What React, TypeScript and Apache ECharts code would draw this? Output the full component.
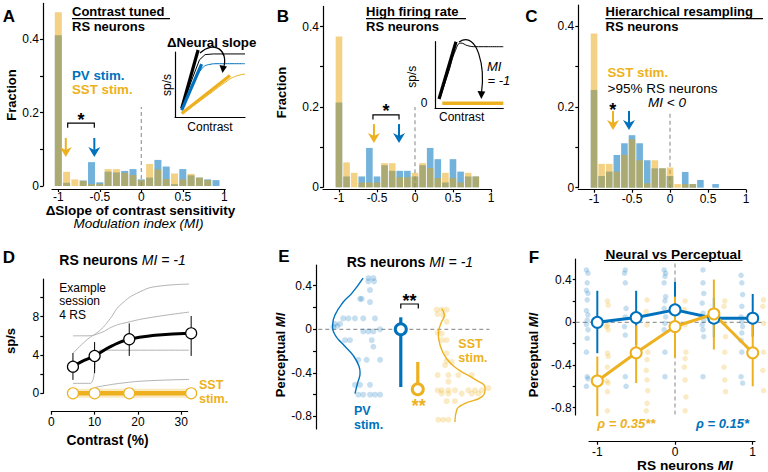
import React, { useEffect, useRef } from 'react';
import * as echarts from 'echarts';

const FONT = '"Liberation Sans", Arial, Helvetica, sans-serif';
const BLUE = '#0072BD';
const YELLOW = '#EDB120';
const BLUE_BAR = 'rgba(0,114,189,0.55)';
const YELLOW_BAR = 'rgba(233,160,0,0.48)';
const BLUE_DOT = 'rgba(0,114,189,0.28)';
const YELLOW_DOT = 'rgba(237,177,32,0.33)';
const GREY = '#b3b3b3';

// ---------- Panel A/B/C histograms ----------
const binsA = [-1, -0.9, -0.8, -0.7, -0.6, -0.5, -0.4, -0.3, -0.2, -0.1, 0, 0.1, 0.2, 0.3, 0.4, 0.5, 0.6, 0.7, 0.8, 0.9];
const aPV = [0.41, 0.009, 0, 0.015, 0.065, 0.01, 0.039, 0.037, 0.041, 0.046, 0.018, 0.023, 0.071, 0.053, 0.005, 0.046, 0.029, 0.023, 0.018, 0.016];
const aSST = [0.473, 0.039, 0.018, 0.014, 0.005, 0.006, 0.046, 0.046, 0.036, 0.03, 0.016, 0.06, 0.045, 0.019, 0.034, 0.018, 0.033, 0.023, 0.016, 0];

const binsB = [-1, -0.9, -0.8, -0.7, -0.6, -0.5, -0.4, -0.3, -0.2, -0.1, 0, 0.1, 0.2, 0.3, 0.4, 0.5, 0.6, 0.7, 0.8];
const bPV = [0.211, 0.027, 0, 0.027, 0.098, 0.027, 0.055, 0.041, 0.041, 0.041, 0.027, 0.055, 0.098, 0.07, 0.012, 0.07, 0.039, 0.027, 0.027];
const bSST = [0.375, 0.062, 0.036, 0.012, 0.012, 0.012, 0.06, 0.06, 0.025, 0.025, 0.036, 0.06, 0.048, 0.023, 0.036, 0.023, 0.012, 0.036, 0.027];

const binsC = [-1, -0.9, -0.8, -0.7, -0.6, -0.5, -0.4, -0.3, -0.2, -0.1, 0, 0.1, 0.2, 0.3, 0.4, 0.5, 0.6];
const cPV = [0.242, 0.029, 0.04, 0.081, 0.11, 0.13, 0.11, 0.068, 0.048, 0.048, 0.029, 0, 0.039, 0.009, 0.019, 0, 0.009];
const cSST = [0.382, 0.059, 0.059, 0.04, 0.081, 0.12, 0.068, 0.011, 0.068, 0.048, 0.05, 0.009, 0.009, 0.009, 0, 0, 0];

// median arrows [x, tipY] and significance brackets [x1, x2, y]
const arrowsA = { sst: [-0.91, 0.079], pv: [-0.566, 0.079] };
const arrowsB = { sst: [-0.54, 0.11], pv: [-0.21, 0.11] };
const arrowsC = { sst: [-0.75, 0.143], pv: [-0.54, 0.143] };
const bracketA = [-0.887, -0.566, 0.171];
const bracketB = [-0.553, -0.21, 0.18];
const zeroLineA = [[0, 0], [0, 0.215]];
const zeroLineB = [[0, 0], [0, 0.2]];
const zeroLineC = [[0, 0], [0, 0.19]];

// ---------- insets (schematic, arbitrary 0..10 units) ----------
const insA_blackThick = [[0.96, 1.3], [3.3, 10.3]];
const insA_blackThin = [[1, 1.6], [2.5, 6], [3.5, 8.8], [4.3, 9.6], [5.5, 9.7], [10, 9.7]];
const insA_blueThick = [[0.96, 1.05], [3.8, 8.15]];
const insA_blueThin = [[1, 1.0], [2.5, 4.8], [3.8, 7.4], [5, 8.1], [6, 8.2], [10, 8.2]];
const insA_yellowThick = [[0.96, 0.53], [7.86, 6.4]];
const insA_yellowThin = [[1, 0.5], [5, 3.6], [7, 5.2], [8.5, 6.2], [10, 6.6]];
const insB_blackThick = [[0.59, 1.4], [3.07, 10.0]];
const insB_blackThin = [[0.7, 1.4], [2, 5.5], [3, 8.7], [3.8, 9.8], [4.8, 9.4], [6, 9.25], [10, 9.25]];
const insB_yellowThick = [[1.07, 0.75], [10, 0.75]];

// ---------- Panel D ----------
const dContrast = [5, 10, 18, 32.3];
const dRS = [2.78, 3.9, 5.64, 6.26];
const dRSlo = [1.4, 2.1, 3.9, 3.9];
const dRShi = [4.2, 5.35, 7.3, 8.07];
const dSST = [0, 0, 0, 0];
const dFit = [[5, 2.78], [7, 3.3], [10, 3.9], [14, 4.95], [18, 5.64], [24, 6.05], [32.3, 6.26]];
const dGrey1 = [[5, 4.17], [8.2, 5.57], [11.3, 6.6], [13.6, 7.8], [15.9, 9.2], [20.5, 10.6], [25.2, 11.2], [32.3, 11.4]];
const dGrey2 = [[5, 6.0], [8.2, 6.0], [11.3, 6.3], [14.4, 7.0], [17.5, 7.4], [22.8, 7.9], [32.3, 8.5]];
const dGrey3 = [[5, 1.04], [9, 1.04], [9.8, 1.7], [10.4, 4.0], [11.3, 4.5], [32.3, 4.5]];
const dGrey4 = [[10, 0.6], [13, 0.85], [17, 1.1], [22, 1.3], [32.3, 1.45]];

// ---------- Panel E (x = horizontal position slot 0..10) ----------
const ePVdots = [
  [2.96, 0.47], [3.24, 0.47], [2.96, 0.44], [3.28, 0.44], [3.05, 0.36], [2.49, 0.28], [2.58, 0.28], [3.05, 0.25],
  [1.54, 0.1], [1.83, 0.1], [2.2, 0.1], [2.67, 0.1], [3.33, 0.1], [1.07, 0.05], [1.36, 0.05], [0.98, 0.02], [1.2, 0.03],
  [2.67, -0.02], [2.96, -0.02], [3.24, -0.02], [3.62, 0], [1.64, -0.1], [1.92, -0.1], [3.15, -0.1], [3.24, -0.16],
  [2.39, -0.28], [2.86, -0.28], [3.62, -0.28], [2.2, -0.51], [2.49, -0.51], [3.05, -0.51],
  [2.39, -0.6], [2.67, -0.6], [3.05, -0.6], [3.33, -0.6], [3.62, -0.6],
];
const eSSTdots = [
  [6.82, 0.18], [7.1, 0.18], [7.38, 0.18], [6.87, 0.14], [7.19, 0.13], [7.38, 0.07], [6.87, -0.03], [7.1, -0.04],
  [7.1, -0.1], [7.38, -0.1], [7.38, -0.22], [7.38, -0.29], [7.67, -0.3], [7.29, -0.33],
  [6.87, -0.42], [7.48, -0.42], [8.04, -0.42], [8.8, -0.42], [7.48, -0.48],
  [6.87, -0.56], [7.1, -0.56], [7.48, -0.56], [7.85, -0.56], [8.61, -0.56], [8.98, -0.56], [9.36, -0.56], [9.74, -0.54],
  [7.1, -0.59], [7.48, -0.59], [8.23, -0.59], [8.8, -0.59], [9.17, -0.59], [7.38, -0.66], [7.85, -0.66],
  [6.91, -0.83], [7.19, -0.83], [7.48, -0.83],
];
const ePVkde = [[2.66, 0.47], [2.02, 0.33], [1.54, 0.25], [1.07, 0.13], [0.94, 0.04], [1.07, -0.05], [1.54, -0.14], [2.1, -0.24], [2.43, -0.34], [2.49, -0.4], [2.34, -0.5], [2.2, -0.59]];
const eSSTkde = [[7.1, 0.19], [7.25, 0.13], [7.06, 0.055], [6.91, -0.04], [7.0, -0.14], [7.38, -0.27], [8.04, -0.37], [8.98, -0.46], [9.55, -0.54], [9.36, -0.62], [8.42, -0.68], [7.95, -0.74], [7.85, -0.85]];
const eSummaryPV = [4.79, 0, -0.53, 0.11];
const eSummarySST = [5.75, -0.55, -0.55, -0.3];
const eBracket = [4.79, 5.78, 0.232];
const eZeroLine = [[0.13, 0], [9.8, 0]];

// ---------- Panel F ----------
const fX = [-1, -0.5, 0, 0.5, 1];
const fPV = [0.0, 0.044, 0.116, 0.038, 0.038];
const fPVlo = [-0.29, -0.21, -0.09, -0.14, -0.135];
const fPVhi = [0.295, 0.295, 0.38, 0.23, 0.265];
const fSST = [-0.55, -0.286, -0.04, 0.078, -0.286];
const fSSTlo = [-0.88, -0.57, -0.33, -0.255, -0.6];
const fSSThi = [-0.32, -0.03, 0.24, 0.4, 0.02];
const fPVdots = [
  [-1.14, 0.49], [-1.12, 0.46], [-1.13, 0.37], [-1.14, 0.30], [-1.12, 0.27], [-1.13, 0.21], [-1.14, 0.11], [-1.12, 0.07],
  [-1.13, 0.02], [-1.14, -0.02], [-1.12, -0.07], [-1.13, -0.15], [-1.14, -0.28], [-1.13, -0.51], [-1.12, -0.53], [-1.14, -0.6],
  [-0.64, 0.49], [-0.65, 0.46], [-0.64, 0.37], [-0.63, 0.13], [-0.64, 0.05], [-0.65, -0.04], [-0.64, -0.12], [-0.64, -0.51], [-0.63, -0.6],
  [-0.14, 0.49], [-0.12, 0.46], [-0.13, 0.43], [-0.14, 0.37], [-0.12, 0.24], [-0.13, 0.2], [-0.14, 0.13], [-0.12, 0.05],
  [-0.13, -0.01], [-0.14, -0.07], [-0.13, -0.28], [-0.13, -0.51],
  [0.36, 0.49], [0.36, 0.37], [0.37, 0.27], [0.35, 0.18], [0.36, 0.085], [0.37, 0.02], [0.35, -0.025], [0.36, -0.07], [0.37, -0.135], [0.36, -0.51],
  [0.85, 0.44], [0.86, 0.37], [0.87, 0.26], [0.86, 0.15], [0.85, 0.05], [0.86, 0.006], [0.87, -0.04], [0.86, -0.1], [0.85, -0.17], [0.86, -0.28], [0.85, -0.51], [0.87, -0.57],
];
const fSSTdots = [
  [-0.87, 0.2], [-0.86, 0.16], [-0.87, -0.025], [-0.88, -0.04], [-0.86, -0.07], [-0.87, -0.29], [-0.86, -0.32], [-0.87, -0.42], [-0.88, -0.55], [-0.86, -0.57], [-0.87, -0.65], [-0.87, -0.83],
  [-0.36, 0.21], [-0.37, 0.1], [-0.36, -0.025], [-0.35, -0.28], [-0.36, -0.35], [-0.37, -0.45], [-0.36, -0.54], [-0.35, -0.64], [-0.36, -0.76], [-0.37, -0.83],
  [0.13, 0.2], [0.12, 0.12], [0.13, -0.025], [0.14, -0.28], [0.13, -0.34], [0.12, -0.42], [0.13, -0.54], [0.14, -0.7], [0.13, -0.83],
  [0.64, 0.2], [0.63, 0.15], [0.64, -0.01], [0.65, -0.135], [0.64, -0.28], [0.63, -0.42], [0.64, -0.54], [0.65, -0.65],
  [1.14, 0.21], [1.13, 0.15], [1.14, -0.01], [1.14, -0.28], [1.13, -0.45], [1.14, -0.64],
];
const fZeroH = [[-1.278, 0], [1.158, 0]];
const fZeroV = [[0, 0.55], [0, -0.869]];

// ---------- helpers ----------
const LABEL = { fontSize: 12, color: '#000', fontFamily: FONT };

function valueAxis(gridIndex: number, min: number, max: number, extra: any = {}) {
  return {
    gridIndex, type: 'value', min, max,
    splitLine: { show: false },
    axisLine: { show: false },
    axisTick: { show: false },
    axisLabel: { show: false },
    ...extra,
  };
}
function shownAxis(gridIndex: number, min: number, max: number, ticks: number[], labels: number[], offset = 0, margin = 4, line = true) {
  return valueAxis(gridIndex, min, max, {
    offset,
    axisLine: { show: line, onZero: false, lineStyle: { color: '#000', width: 1.2 } },
    axisTick: { show: true, length: 3, lineStyle: { color: '#000', width: 1.2 }, customValues: ticks },
    axisLabel: { show: true, ...LABEL, margin, customValues: labels, lineHeight: 12 },
  });
}
function lineS(gi: number, data: any[], color: string, width: number, extra: any = {}) {
  return {
    type: 'line', xAxisIndex: gi, yAxisIndex: gi, data, showSymbol: false, symbol: 'none', silent: true,
    lineStyle: { color, width }, clip: false, z: 2, ...extra,
  };
}
function dashS(gi: number, data: any[]) {
  return lineS(gi, data, '#9a9a9a', 1.2, { lineStyle: { color: '#9a9a9a', width: 1.2, type: [4, 3] }, z: 1 });
}
function errS(gi: number, data: any[], color: string, width: number, z = 3) {
  return {
    type: 'custom', xAxisIndex: gi, yAxisIndex: gi, data, silent: true, z, clip: false,
    encode: { x: 0, y: [1, 2] },
    renderItem: (_p: any, api: any) => {
      const a = api.coord([api.value(0), api.value(1)]);
      const b = api.coord([api.value(0), api.value(2)]);
      return { type: 'line', shape: { x1: a[0], y1: a[1], x2: b[0], y2: b[1] }, style: { stroke: color, lineWidth: width } };
    },
  };
}
function arrowS(gi: number, pt: number[], color: string) {
  return {
    type: 'custom', xAxisIndex: gi, yAxisIndex: gi, data: [pt], silent: true, z: 10, clip: false,
    renderItem: (_p: any, api: any) => {
      const [x, y] = api.coord([api.value(0), api.value(1)]);
      return {
        type: 'group', children: [
          { type: 'line', shape: { x1: x, y1: y - 19, x2: x, y2: y - 6 }, style: { stroke: color, lineWidth: 2 } },
          { type: 'polygon', shape: { points: [[x - 6, y - 10], [x, y - 7], [x + 6, y - 10], [x, y]] }, style: { fill: color } },
        ],
      };
    },
  };
}
function bracketS(gi: number, br: number[]) {
  return {
    type: 'custom', xAxisIndex: gi, yAxisIndex: gi, data: [br], silent: true, z: 10, clip: false,
    renderItem: (_p: any, api: any) => {
      const a = api.coord([api.value(0), api.value(2)]);
      const b = api.coord([api.value(1), api.value(2)]);
      return {
        type: 'polyline',
        shape: { points: [[a[0], a[1] + 4.5], [a[0], a[1]], [b[0], b[1]], [b[0], b[1] + 4.5]] },
        style: { stroke: '#000', lineWidth: 1.2, fill: 'none' },
      };
    },
  };
}
function histS(gi: number, bins: number[], pv: number[], sst: number[], bw: number) {
  return [
    { type: 'bar', xAxisIndex: gi, yAxisIndex: gi, data: bins.map((b, i) => [b, pv[i]]), barWidth: bw, barGap: '-100%', itemStyle: { color: BLUE_BAR }, silent: true, z: 2 },
    { type: 'bar', xAxisIndex: gi, yAxisIndex: gi, data: bins.map((b, i) => [b, sst[i]]), barWidth: bw, barGap: '-100%', itemStyle: { color: YELLOW_BAR }, silent: true, z: 2 },
  ];
}
function circleS(gi: number, data: any[], color: string, size: number, bw: number, z = 5) {
  return {
    type: 'scatter', xAxisIndex: gi, yAxisIndex: gi, data, symbol: 'circle', symbolSize: size, silent: true, z, clip: false,
    itemStyle: { color: '#fff', borderColor: color, borderWidth: bw, opacity: 1 },
  };
}
function dotS(gi: number, data: any[], color: string, size: number) {
  return {
    type: 'scatter', xAxisIndex: gi, yAxisIndex: gi, data, symbol: 'circle', symbolSize: size, silent: true, z: 1, clip: false,
    itemStyle: { color },
  };
}

function rich(size: number) {
  return {
    b: { fontWeight: 'bold', fontSize: size, fontFamily: FONT, fill: '#000', lineHeight: size },
    i: { fontStyle: 'italic', fontSize: size, fontFamily: FONT, fill: '#000', lineHeight: size },
    bi: { fontWeight: 'bold', fontStyle: 'italic', fontSize: size, fontFamily: FONT, fill: '#000', lineHeight: size },
  };
}
function T(x: number, y: number, text: string, o: any = {}) {
  const size = o.size || 13;
  return {
    type: 'text', x, y, rotation: o.rot || 0, silent: true, z: 100,
    style: {
      text, fill: o.color || '#000', fontSize: size, fontWeight: o.bold ? 'bold' : 'normal',
      fontStyle: o.italic ? 'italic' : 'normal', fontFamily: FONT, lineHeight: o.lh || size,
      textAlign: o.align || 'left', textVerticalAlign: 'middle', rich: o.rich,
    },
  };
}
function L(x1: number, y1: number, x2: number, y2: number, w = 1.2, color = '#000') {
  return { type: 'line', silent: true, z: 100, shape: { x1, y1, x2, y2 }, style: { stroke: color, lineWidth: w } };
}

function buildOption() {
  const grids = [
    { left: 52, top: 3.4, width: 173.3, height: 182.6 },   // 0 A
    { left: 323, top: 6.4, width: 168, height: 180.9 },    // 1 B
    { left: 578.3, top: 5.1, width: 167.7, height: 182.6 },// 2 C
    { left: 175, top: 52, width: 70, height: 65 },          // 3 A inset
    { left: 435, top: 41.7, width: 68.3, height: 66.6 },    // 4 B inset
    { left: 51.3, top: 279, width: 136.4, height: 114.3 },  // 5 D
    { left: 316, top: 265, width: 177, height: 164 },       // 6 E
    { left: 575.7, top: 259, width: 189.3, height: 156 },   // 7 F
    { left: 589, top: 415, width: 166, height: 26.7 },      // 8 F x-axis
  ];
  const histTicksX = [-1, -0.5, 0, 0.5, 1];
  const xAxis = [
    shownAxis(0, -1.076, 1.012, histTicksX, histTicksX, 3, 2),
    shownAxis(1, -1.21, 1.0, histTicksX, histTicksX, 2, 3),
    shownAxis(2, -1.207, 1.0, histTicksX, histTicksX, 2, 3),
    valueAxis(3, 0, 10, { axisLine: { show: true, onZero: false, lineStyle: { color: '#000', width: 1.2 } } }),
    valueAxis(4, 0, 10, { axisLine: { show: true, onZero: false, lineStyle: { color: '#000', width: 1.2 } } }),
    shownAxis(5, 0, 31.5, [0, 10, 20, 30], [0, 10, 20, 30], 18.4, 4),
    valueAxis(6, 0, 10),
    valueAxis(7, -1.278, 1.158),
    shownAxis(8, -1.107, 1.03, [-1, 0, 1], [-1, 0, 1], 0, 4),
  ];
  const yAxis = [
    shownAxis(0, 0, 0.497, [0, 0.1, 0.2, 0.3, 0.4], [0, 0.2, 0.4], 9, 4),
    shownAxis(1, 0, 0.45, [0, 0.1, 0.2, 0.3, 0.4], [0, 0.2, 0.4], 0, 4),
    shownAxis(2, 0, 0.452, [0, 0.1, 0.2, 0.3, 0.4], [0, 0.2, 0.4], 0, 4),
    valueAxis(3, 0, 10, { axisLine: { show: true, onZero: false, lineStyle: { color: '#000', width: 1.2 } } }),
    valueAxis(4, 0, 10, { axisLine: { show: true, onZero: false, lineStyle: { color: '#000', width: 1.2 } } }),
    shownAxis(5, 0, 11.93, [0, 2, 4, 6, 8, 10], [0, 4, 8], 8, 4),
    shownAxis(6, -0.915, 0.59, [-0.8, -0.6, -0.4, -0.2, 0, 0.2, 0.4], [-0.8, -0.4, 0, 0.4], 0, 4),
    shownAxis(7, -0.869, 0.593, [-0.8, -0.6, -0.4, -0.2, 0, 0.2, 0.4], [-0.8, -0.4, 0, 0.4], 0, 4),
    valueAxis(8, 0, 1),
  ];

  const series: any[] = [
    // A
    ...histS(0, binsA, aPV, aSST, 7),
    dashS(0, zeroLineA),
    arrowS(0, arrowsA.sst, YELLOW), arrowS(0, arrowsA.pv, BLUE), bracketS(0, bracketA),
    // B
    ...histS(1, binsB, bPV, bSST, 6.6),
    dashS(1, zeroLineB),
    arrowS(1, arrowsB.sst, YELLOW), arrowS(1, arrowsB.pv, BLUE), bracketS(1, bracketB),
    // C
    ...histS(2, binsC, cPV, cSST, 6.6),
    dashS(2, zeroLineC),
    arrowS(2, arrowsC.sst, YELLOW), arrowS(2, arrowsC.pv, BLUE),
    // A inset
    lineS(3, insA_blackThin, '#000', 1),
    lineS(3, insA_blueThin, BLUE, 1, { smooth: true }),
    lineS(3, insA_yellowThin, YELLOW, 1, { smooth: true }),
    lineS(3, insA_blackThick, '#000', 3.2),
    lineS(3, insA_blueThick, BLUE, 3.2),
    lineS(3, insA_yellowThick, YELLOW, 3.2),
    // B inset
    lineS(4, insB_blackThin, '#000', 1, { smooth: true }),
    lineS(4, insB_blackThick, '#000', 3.2),
    lineS(4, insB_yellowThick, YELLOW, 3.5),
    // D
    lineS(5, dGrey1, GREY, 1, { smooth: true }),
    lineS(5, dGrey2, GREY, 1, { smooth: true }),
    lineS(5, dGrey3, GREY, 1, { smooth: 0.3 }),
    lineS(5, dGrey4, GREY, 1, { smooth: true }),
    errS(5, dContrast.map((c, i) => [c, dRSlo[i], dRShi[i]]), '#000', 1, 3),
    lineS(5, dFit, '#000', 3, { smooth: true, z: 4 }),
    lineS(5, dContrast.map((c, i) => [c, dSST[i]]), 'rgba(237,177,32,0.28)', 9, { z: 3 }),
    lineS(5, dContrast.map((c, i) => [c, dSST[i]]), YELLOW, 4.5, { z: 4 }),
    circleS(5, dContrast.map((c, i) => [c, dRS[i]]), '#000', 11, 1.2, 6),
    circleS(5, dContrast.map((c, i) => [c, dSST[i]]), YELLOW, 11, 1.2, 6),
    // E
    dashS(6, eZeroLine),
    dotS(6, ePVdots, BLUE_DOT, 6),
    dotS(6, eSSTdots, YELLOW_DOT, 6),
    lineS(6, ePVkde, BLUE, 1.4, { smooth: true }),
    lineS(6, eSSTkde, YELLOW, 1.4, { smooth: true }),
    errS(6, [[eSummaryPV[0], eSummaryPV[2], eSummaryPV[3]]], BLUE, 3.2, 4),
    errS(6, [[eSummarySST[0], eSummarySST[2], eSummarySST[3]]], YELLOW, 3.2, 4),
    circleS(6, [[eSummaryPV[0], eSummaryPV[1]]], BLUE, 11, 3, 6),
    circleS(6, [[eSummarySST[0], eSummarySST[1]]], YELLOW, 11, 3, 6),
    bracketS(6, eBracket),
    // F
    dashS(7, fZeroH),
    dashS(7, fZeroV),
    dotS(7, fPVdots, BLUE_DOT, 5.5),
    dotS(7, fSSTdots, YELLOW_DOT, 5.5),
    errS(7, fX.map((x, i) => [x, fPVlo[i], fPVhi[i]]), BLUE, 2, 3),
    errS(7, fX.map((x, i) => [x, fSSTlo[i], fSSThi[i]]), YELLOW, 2, 3),
    lineS(7, fX.map((x, i) => [x, fPV[i]]), BLUE, 3, { z: 4 }),
    lineS(7, fX.map((x, i) => [x, fSST[i]]), YELLOW, 3, { z: 4 }),
    circleS(7, fX.map((x, i) => [x, fPV[i]]), BLUE, 11, 2, 6),
    circleS(7, fX.map((x, i) => [x, fSST[i]]), YELLOW, 11, 2, 6),
  ];

  const graphic: any[] = [
    // panel letters
    T(9, 16, 'A', { bold: true, size: 17, align: 'center' }),
    T(283, 16, 'B', { bold: true, size: 17, align: 'center' }),
    T(531.5, 16, 'C', { bold: true, size: 17, align: 'center' }),
    T(9, 257, 'D', { bold: true, size: 17, align: 'center' }),
    T(284, 256, 'E', { bold: true, size: 17, align: 'center' }),
    T(534, 257, 'F', { bold: true, size: 17, align: 'center' }),
    // A
    T(72, 11.8, 'Contrast tuned', { bold: true, size: 13 }), L(72, 18.6, 170, 18.6),
    T(72, 26, 'RS neurons', { bold: true, size: 13 }),
    T(167, 42, 'ΔNeural slope', { bold: true, size: 13.3 }),
    T(166.5, 85, 'sp/s', { size: 12, align: 'center', rot: Math.PI / 2 }),
    T(210, 127, 'Contrast', { size: 12, align: 'center' }),
    T(72, 75, 'PV stim.', { bold: true, color: BLUE, size: 13.3 }),
    T(72, 89.3, 'SST stim.', { bold: true, color: YELLOW, size: 13.3 }),
    T(81, 120, '*', { bold: true, size: 18, align: 'center' }),
    T(140.5, 210, 'ΔSlope of contrast sensitivity', { bold: true, align: 'center', size: 13.5 }),
    T(138.5, 223.5, 'Modulation index (MI)', { italic: true, align: 'center', size: 13.5 }),
    T(11, 95, 'Fraction', { bold: true, align: 'center', rot: Math.PI / 2 }),
    { type: 'bezierCurve', silent: true, z: 100, shape: { x1: 200, y1: 53, cpx1: 214, cpy1: 40, cpx2: 229, cpy2: 50, x2: 223.5, y2: 68 }, style: { stroke: '#000', lineWidth: 1.2, fill: 'none' } },
    { type: 'polygon', silent: true, z: 100, shape: { points: [[222.5, 73], [219.5, 65], [227, 66.5]] }, style: { fill: '#000' } },
    // B
    T(366, 11.8, 'High firing rate', { bold: true, size: 13 }), L(366, 18.6, 466, 18.6),
    T(366, 26, 'RS neurons', { bold: true, size: 13 }),
    T(281.7, 92.5, 'Fraction', { bold: true, align: 'center', rot: Math.PI / 2 }),
    T(424, 103, '0', { size: 12, align: 'center' }),
    T(411.7, 76.7, 'sp/s', { size: 12, align: 'center', rot: Math.PI / 2 }),
    T(461.7, 117, 'Contrast', { size: 12, align: 'center' }),
    T(487, 66, 'MI', { italic: true }),
    T(487.5, 80, '= -1', { italic: true }),
    T(386, 111, '*', { bold: true, size: 18, align: 'center' }),
    { type: 'bezierCurve', silent: true, z: 100, shape: { x1: 459, y1: 42, cpx1: 478, cpy1: 30, cpx2: 485, cpy2: 68, x2: 481.5, y2: 93 }, style: { stroke: '#000', lineWidth: 1.2, fill: 'none' } },
    { type: 'polygon', silent: true, z: 100, shape: { points: [[481.3, 99], [477.5, 91], [485.3, 91.5]] }, style: { fill: '#000' } },
    // C
    T(605.5, 11.8, 'Hierarchical resampling', { bold: true, size: 13 }), L(605.5, 18.6, 763, 18.6),
    T(605.5, 26, 'RS neurons', { bold: true, size: 13 }),
    T(607.5, 72.3, 'SST stim.', { bold: true, color: YELLOW, size: 13.3 }),
    T(607.5, 88, '>95% RS neurons', { size: 13.5 }),
    T(648, 102, 'MI < 0', { italic: true, size: 13.5 }),
    T(612.7, 110, '*', { bold: true, size: 18, align: 'center' }),
    // D
    T(59.3, 260, '{b|RS neurons }{i|MI = -1}', { rich: rich(14) }),
    T(59.3, 288.2, 'Example', { size: 12 }),
    T(59.3, 301.4, 'session', { size: 12 }),
    T(59.3, 314.6, '4 RS', { size: 12 }),
    T(199, 384.5, 'SST', { bold: true, color: YELLOW, size: 12.5 }),
    T(199, 398.5, 'stim.', { bold: true, color: YELLOW, size: 12.5 }),
    T(107.5, 440.7, 'Contrast (%)', { bold: true, align: 'center', size: 13.8 }),
    T(10, 341, 'sp/s', { bold: true, align: 'center', rot: Math.PI / 2 }),
    // E
    T(346.7, 261.7, '{b|RS neurons }{i|MI = -1}', { rich: rich(14) }),
    T(280, 355, '{b|Perceptual }{bi|MI}', { rich: rich(13), align: 'center', rot: Math.PI / 2 }),
    T(354, 411, 'PV', { bold: true, color: BLUE, size: 12.5 }),
    T(354, 425, 'stim.', { bold: true, color: BLUE, size: 12.5 }),
    T(409.5, 301, '**', { bold: true, size: 18, align: 'center' }),
    T(418.7, 406, '**', { bold: true, size: 18, align: 'center', color: YELLOW }),
    T(458.3, 344, 'SST', { bold: true, color: YELLOW, size: 12.5 }),
    T(458.3, 358, 'stim.', { bold: true, color: YELLOW, size: 12.5 }),
    // F
    T(673.3, 254, 'Neural vs Perceptual', { bold: true, align: 'center', size: 13.7 }), L(604, 260.5, 742.5, 260.5),
    T(533.3, 355, '{b|Perceptual }{bi|MI}', { rich: rich(13), align: 'center', rot: Math.PI / 2 }),
    T(597.3, 423.3, 'ρ = 0.35**', { bold: true, italic: true, color: YELLOW }),
    T(696, 423.3, 'ρ = 0.15*', { bold: true, italic: true, color: BLUE }),
    T(685, 465, '{b|RS neurons }{bi|MI}', { rich: rich(13.7), align: 'center' }),
  ];

  return {
    animation: false,
    backgroundColor: '#fff',
    textStyle: { fontFamily: FONT },
    grid: grids,
    xAxis,
    yAxis,
    series,
    graphic: { elements: graphic },
  };
}

export default function App() {
  const ref = useRef<HTMLDivElement>(null);
  useEffect(() => {
    const chart = echarts.init(ref.current!, undefined, { renderer: 'svg', width: 768, height: 472 });
    chart.setOption(buildOption() as any);
    return () => chart.dispose();
  }, []);
  return <div ref={ref} style={{ position: 'absolute', left: 0, top: 0, width: 768, height: 472, background: '#fff' }} />;
}
